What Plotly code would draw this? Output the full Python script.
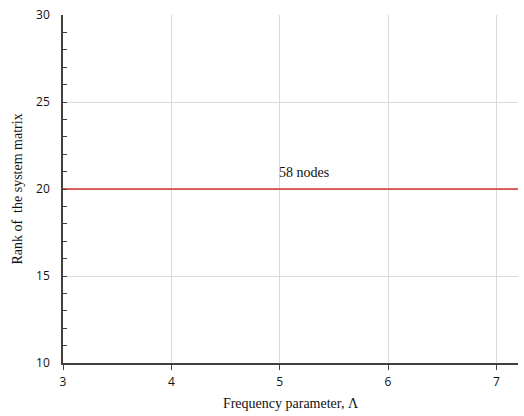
import plotly.graph_objects as go

frequency = [3, 7.2]
rank = [20, 20]
label_text = "58 nodes"
label_x = 5.22
label_y = 20.95

fig = go.Figure()
fig.add_trace(go.Scatter(x=frequency, y=rank, mode="lines",
                         line=dict(color="#d9302c", width=1.5),
                         showlegend=False, hoverinfo="skip"))
fig.add_annotation(x=label_x, y=label_y, text=label_text, showarrow=False,
                   font=dict(family="Liberation Serif", size=14, color="#111"))

fig.update_layout(
    width=524, height=416,
    margin=dict(l=63, r=6, t=10, b=53),
    paper_bgcolor="white", plot_bgcolor="white",
    font=dict(family="Open Sans", size=12, color="#111"),
    xaxis=dict(range=[3, 7.2], dtick=1, tick0=3, showgrid=True, gridcolor="#d9d9d9",
               gridwidth=1, showline=True, linecolor="#404040", linewidth=1.5,
               ticks="outside", ticklen=5, tickcolor="#404040", zeroline=False,
               ticklabelstandoff=2,
               tickfont=dict(family="Open Sans", size=12, color="#111"),
               title=dict(text="Frequency parameter, Λ", standoff=9,
                          font=dict(family="Liberation Serif", size=14, color="#111"))),
    yaxis=dict(range=[10, 30], dtick=5, tick0=10, showgrid=True, gridcolor="#d9d9d9",
               gridwidth=1, showline=True, linecolor="#404040", linewidth=1.5,
               ticks="inside", ticklen=4, tickcolor="#404040", zeroline=False,
               ticklabelstandoff=9,
               minor=dict(dtick=1, ticks="inside", ticklen=4, tickcolor="#404040", showgrid=False),
               tickfont=dict(family="Open Sans", size=12, color="#111"),
               title=dict(text="Rank of  the system matrix", standoff=10,
                          font=dict(family="Liberation Serif", size=14, color="#111"))),
)

fig.write_html("out.html")
